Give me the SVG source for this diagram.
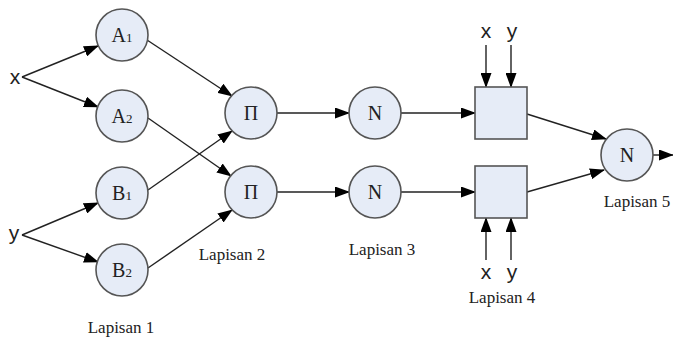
<svg xmlns="http://www.w3.org/2000/svg" width="673" height="340" viewBox="0 0 673 340">
<defs>
<marker id="ah" markerWidth="15" markerHeight="11" refX="14" refY="5.5" orient="auto" markerUnits="userSpaceOnUse">
<path d="M0,0 L15,5.5 L0,11 Z" fill="#000"/>
</marker>
<style>
.n{fill:#e6ecf7;stroke:#555;stroke-width:1.6}
.c{fill:none;stroke:#222;stroke-width:1.4;marker-end:url(#ah)}
.s{font-family:"Liberation Serif","Times New Roman",serif;fill:#222}
.lbl{font-size:17px;text-anchor:middle}
.nl{font-size:20px;text-anchor:middle}
.v{font-family:"Liberation Sans",Arial,sans-serif;font-size:21px;fill:#222;text-anchor:middle}
</style>
</defs>
<rect width="673" height="340" fill="#fff"/>
<g id="connectors">
<line class="c" x1="22" y1="77" x2="98" y2="46"/>
<line class="c" x1="22" y1="77" x2="98" y2="107"/>
<line class="c" x1="22" y1="235" x2="98" y2="203"/>
<line class="c" x1="22" y1="235" x2="98" y2="262"/>
<line class="c" x1="147" y1="40" x2="232" y2="96"/>
<line class="c" x1="148" y1="118" x2="231" y2="176"/>
<line class="c" x1="148" y1="190" x2="232" y2="131"/>
<line class="c" x1="148" y1="268" x2="232" y2="210"/>
<line class="c" x1="277" y1="113" x2="349" y2="113"/>
<line class="c" x1="277" y1="192" x2="349" y2="192"/>
<line class="c" x1="401" y1="113" x2="475" y2="113"/>
<line class="c" x1="401" y1="192" x2="475" y2="192"/>
<line class="c" x1="486" y1="45" x2="486" y2="87"/>
<line class="c" x1="511" y1="45" x2="511" y2="87"/>
<line class="c" x1="486" y1="260" x2="486" y2="218"/>
<line class="c" x1="511" y1="260" x2="511" y2="218"/>
<line class="c" x1="527" y1="114" x2="606" y2="139"/>
<line class="c" x1="527" y1="192" x2="604" y2="170"/>
<line class="c" x1="653" y1="155" x2="673" y2="155"/>
</g>
<g id="in-x"><text class="v" x="15" y="84">x</text></g>
<g id="in-y"><text class="v" x="14" y="240">y</text></g>
<g id="A1"><circle class="n" cx="122" cy="35" r="26"/><text class="s" x="122" y="42" text-anchor="middle"><tspan font-size="20">A</tspan><tspan font-size="13">1</tspan></text></g>
<g id="A2"><circle class="n" cx="122" cy="116" r="26"/><text class="s" x="122" y="123" text-anchor="middle"><tspan font-size="20">A</tspan><tspan font-size="13">2</tspan></text></g>
<g id="B1"><circle class="n" cx="122" cy="193" r="26"/><text class="s" x="122" y="200" text-anchor="middle"><tspan font-size="20">B</tspan><tspan font-size="13">1</tspan></text></g>
<g id="B2"><circle class="n" cx="122" cy="270" r="26"/><text class="s" x="122" y="277" text-anchor="middle"><tspan font-size="20">B</tspan><tspan font-size="13">2</tspan></text></g>
<g id="P1"><circle class="n" cx="251" cy="113" r="26"/><text class="s nl" x="251" y="120">Π</text></g>
<g id="P2"><circle class="n" cx="251" cy="192" r="26"/><text class="s nl" x="251" y="199">Π</text></g>
<g id="N1"><circle class="n" cx="375" cy="113" r="26"/><text class="s nl" x="375" y="120">N</text></g>
<g id="N2"><circle class="n" cx="375" cy="192" r="26"/><text class="s nl" x="375" y="199">N</text></g>
<g id="R1"><rect class="n" x="475" y="87" width="52" height="52"/></g>
<g id="R2"><rect class="n" x="475" y="166" width="52" height="52"/></g>
<g id="N5"><circle class="n" cx="627" cy="155" r="26"/><text class="s nl" x="627" y="162">N</text></g>
<g id="inputs-top"><text class="v" x="486" y="38">x</text><text class="v" x="512" y="38">y</text></g>
<g id="inputs-bottom"><text class="v" x="486" y="279">x</text><text class="v" x="512" y="279">y</text></g>
<g id="labels">
<text class="s lbl" x="121" y="333">Lapisan 1</text>
<text class="s lbl" x="232" y="260">Lapisan 2</text>
<text class="s lbl" x="382" y="255">Lapisan 3</text>
<text class="s lbl" x="502" y="303">Lapisan 4</text>
<text class="s lbl" x="637" y="207">Lapisan 5</text>
</g>
</svg>
